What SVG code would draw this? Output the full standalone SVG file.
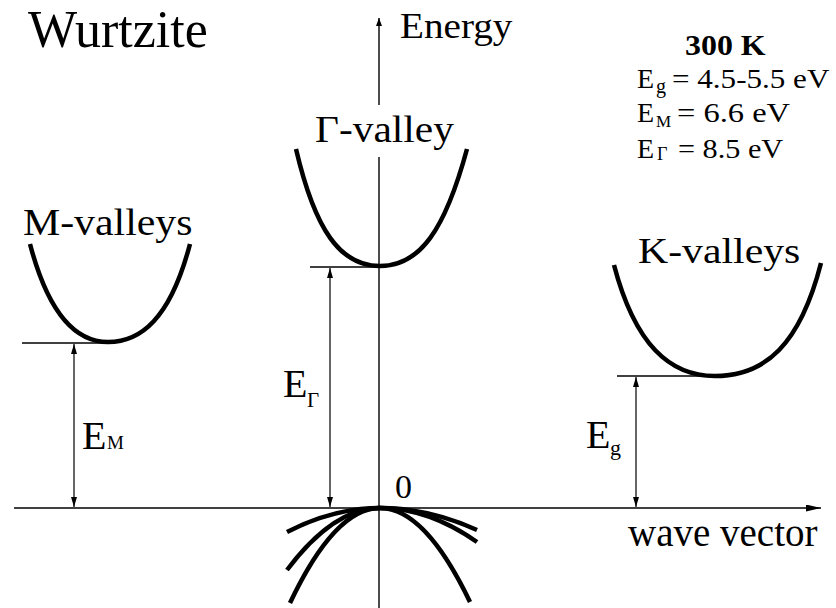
<svg xmlns="http://www.w3.org/2000/svg" width="836" height="608" viewBox="0 0 836 608">
<style>
text{font-family:"Liberation Serif","Times New Roman","DejaVu Serif",serif;fill:#000}
.band{fill:none;stroke:#000;stroke-width:4.5;stroke-linecap:butt}
.thin{fill:none;stroke:#000;stroke-width:1.4}
.dim{fill:none;stroke:#000;stroke-width:1.2;marker-start:url(#ah);marker-end:url(#ah)}
</style>
<defs>
<marker id="ah" viewBox="0 0 10 6" refX="10" refY="3" markerWidth="10" markerHeight="6" markerUnits="userSpaceOnUse" orient="auto-start-reverse">
<path d="M0,0 L10,3 L0,6 Z" fill="#000"/>
</marker>
<marker id="axh" viewBox="0 0 15 7" refX="15" refY="3.5" markerWidth="15" markerHeight="7" markerUnits="userSpaceOnUse" orient="auto">
<path d="M0,0 L15,3.5 L0,7 Z" fill="#000"/>
</marker>
<marker id="ayh" viewBox="0 0 8 6" refX="8" refY="3" markerWidth="8" markerHeight="6" markerUnits="userSpaceOnUse" orient="auto">
<path d="M0,0 L8,3 L0,6 Z" fill="#000"/>
</marker>
</defs>

<text x="28" y="47" font-size="52">Wurtzite</text>

<g id="axes">
<line class="thin" x1="14" y1="508" x2="821" y2="508" marker-end="url(#axh)"/>
<line class="thin" x1="379" y1="608" x2="379" y2="157"/>
<line class="thin" x1="379" y1="105" x2="379" y2="18" marker-end="url(#ayh)"/>
<text transform="translate(400,38) scale(1.12,1)" font-size="35">Energy</text>
<text x="628" y="546" font-size="39">wave vector</text>
<text x="395" y="498" font-size="34">0</text>
</g>

<g id="info">
<text transform="translate(685,55) scale(1.1,1)" font-size="29" font-weight="bold">300 K</text>
<text x="637" y="88" font-size="28">E</text>
<text x="656" y="93" font-size="20">g</text>
<text transform="translate(672,88) scale(1.11,1)" font-size="28">= 4.5-5.5 eV</text>
<text x="637" y="122" font-size="28">E</text>
<text x="656" y="127" font-size="17">M</text>
<text transform="translate(677,122) scale(1.16,1)" font-size="28">= 6.6 eV</text>
<text x="637" y="158" font-size="28">E</text>
<text x="657" y="160" font-size="18">Γ</text>
<text transform="translate(678,158) scale(1.08,1)" font-size="28">= 8.5 eV</text>
</g>

<g id="gamma-valley">
<path class="band" d="M296,149 C315,230 340,266 380,266 C420,266 445,230 467,149"/>
<text transform="translate(315,142) scale(1.12,1)" font-size="37">Γ-valley</text>
</g>

<g id="m-valley">
<path class="band" d="M30,244 C50,320 80,342 108,342 C140,342 170,320 190,244"/>
<text transform="translate(23,235) scale(1.1,1)" font-size="38">M-valleys</text>
</g>

<g id="k-valley">
<path class="band" d="M614,265 C635,345 670,376 715,376 C765,376 800,345 821,263"/>
<text transform="translate(638,263) scale(1.16,1)" font-size="36">K-valleys</text>
</g>

<g id="valence">
<path class="band" d="M287,532 Q333.5,508 380,508 Q428.5,508 477,530"/>
<path class="band" d="M287,570 Q333.5,508 380,508"/>
<path class="band" d="M380,508 Q428.5,508 477,542"/>
<path class="band" d="M290,603 Q335,508 380,508 Q425,508 470,602"/>
</g>

<g id="connectors">
<line class="thin" x1="22" y1="343" x2="108" y2="343"/>
<line class="thin" x1="310" y1="267" x2="380" y2="267"/>
<line class="thin" x1="617" y1="376" x2="715" y2="376"/>
<line class="dim" x1="74" y1="344" x2="74" y2="507"/>
<line class="dim" x1="330" y1="268" x2="330" y2="507"/>
<line class="dim" x1="636" y1="377" x2="636" y2="507"/>
</g>

<g id="labels">
<text x="82" y="449" font-size="40">E</text>
<text x="107" y="449" font-size="19">M</text>
<text x="283" y="397" font-size="40">E</text>
<text x="307" y="407" font-size="21">Γ</text>
<text x="586" y="448" font-size="40">E</text>
<text x="610" y="455" font-size="22">g</text>
</g>
</svg>
